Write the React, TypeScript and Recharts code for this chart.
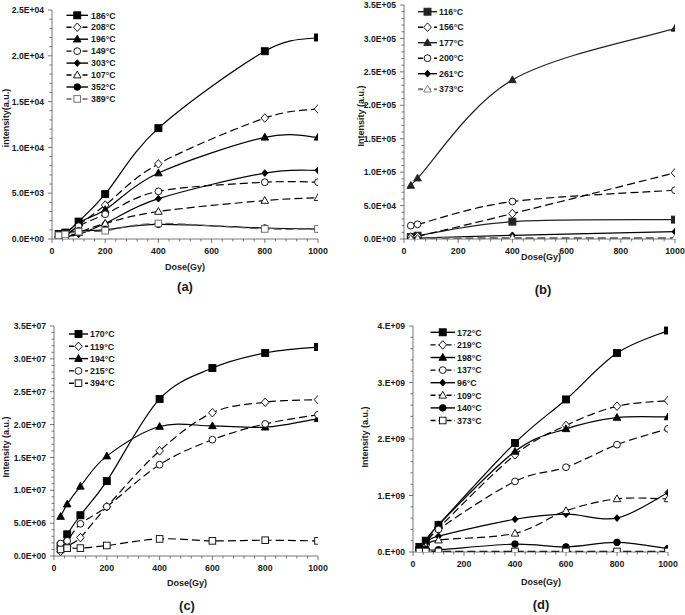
import React from 'react';
import { LineChart, Line, XAxis, YAxis } from 'recharts';

const FONT = '"Liberation Sans", Arial, sans-serif';
const AXIS = '#555';
const TXT = '#1a1a1a';

// ---------- Panel (a) ----------
const dosesA = [25, 50, 100, 200, 400, 800, 1000];
const a186 = [550, 700, 1900, 4900, 12100, 20500, 22000];
const a208 = [300, 300, 1500, 3700, 8200, 13200, 14200];
const a196 = [400, 500, 1800, 3200, 7200, 11100, 11100];
const a149 = [300, 400, 1400, 2700, 5200, 6200, 6200];
const a303 = [300, 300, 500, 1700, 4400, 7200, 7500];
const a107 = [200, 200, 700, 1700, 3000, 4200, 4500];
const a352 = [500, 600, 900, 1000, 1600, 1200, 1100];
const a389 = [400, 500, 800, 900, 1700, 1100, 1100];
const yTicksA = [0, 5000, 10000, 15000, 20000, 25000];
const yLabelsA = ['0.0E+00', '5.0E+03', '1.0E+04', '1.5E+04', '2.0E+04', '2.5E+04'];

// ---------- Panel (b) ----------
const dosesB = [25, 50, 400, 1000];
const b116 = [3000, 5000, 26000, 29000];
const b156 = [3000, 4000, 38000, 99000];
const b177 = [80000, 91000, 238000, 315000];
const b200 = [20000, 22000, 56000, 73000];
const b261 = [1000, 1500, 5500, 11000];
const b373 = [500, 700, 1500, 1500];
const yTicksB = [0, 50000, 100000, 150000, 200000, 250000, 300000, 350000];
const yLabelsB = ['0.0E+00', '5.0E+04', '1.0E+05', '1.5E+05', '2.0E+05', '2.5E+05', '3.0E+05', '3.5E+05'];

// ---------- Panel (c) ----------
const dosesC = [25, 50, 100, 200, 400, 600, 800, 1000];
const c170 = [1.5e6, 3.3e6, 6.2e6, 11.4e6, 23.9e6, 28.6e6, 30.9e6, 31.8e6];
const c119 = [0.7e6, 1.5e6, 2.8e6, 7.5e6, 16.0e6, 21.8e6, 23.4e6, 23.8e6];
const c194 = [6.0e6, 7.9e6, 10.6e6, 15.2e6, 19.7e6, 19.8e6, 19.6e6, 20.9e6];
const c215 = [1.9e6, 2.3e6, 4.9e6, 7.5e6, 13.9e6, 17.7e6, 20.1e6, 21.5e6];
const c394 = [1.0e6, 1.2e6, 1.2e6, 1.6e6, 2.6e6, 2.3e6, 2.4e6, 2.3e6];
const yTicksC = [0, 5e6, 10e6, 15e6, 20e6, 25e6, 30e6, 35e6];
const yLabelsC = ['0.0E+00', '5.0E+06', '1.0E+07', '1.5E+07', '2.0E+07', '2.5E+07', '3.0E+07', '3.5E+07'];

// ---------- Panel (d) ----------
const dosesD = [25, 50, 100, 400, 600, 800, 1000];
const d172 = [0.09e9, 0.2e9, 0.48e9, 1.93e9, 2.7e9, 3.52e9, 3.92e9];
const d219 = [0.08e9, 0.15e9, 0.42e9, 1.72e9, 2.24e9, 2.58e9, 2.68e9];
const d198 = [0.08e9, 0.17e9, 0.48e9, 1.78e9, 2.18e9, 2.38e9, 2.39e9];
const d137 = [0.08e9, 0.12e9, 0.4e9, 1.25e9, 1.5e9, 1.9e9, 2.18e9];
const d96 = [0.08e9, 0.15e9, 0.28e9, 0.58e9, 0.67e9, 0.6e9, 1.05e9];
const d109 = [0.08e9, 0.1e9, 0.21e9, 0.33e9, 0.73e9, 0.94e9, 0.94e9];
const d140 = [0.08e9, 0.05e9, 0.04e9, 0.14e9, 0.09e9, 0.17e9, 0.06e9];
const d373 = [0.01e9, 0.01e9, 0.01e9, 0.01e9, 0.01e9, 0.01e9, 0.01e9];
const yTicksD = [0, 1e9, 2e9, 3e9, 4e9];
const yLabelsD = ['0.E+00', '1.E+09', '2.E+09', '3.E+09', '4.E+09'];

const xTicks = [0, 200, 400, 600, 800, 1000];
const xLabels = ['0', '200', '400', '600', '800', '1000'];

type Kind = 'square' | 'osquare' | 'diamond' | 'fdiamond' | 'triangle' | 'otriangle' | 'circle' | 'fcircle';
interface Series { name: string; values: number[]; kind: Kind; dashed?: boolean; color?: string; width?: number; }

// Excel-like smoothed curve (Catmull-Rom style Bezier)
const excelSmooth: any = (context: any) => {
  let pts: number[][] = [];
  return {
    areaStart() {},
    areaEnd() {},
    lineStart() { pts = []; },
    lineEnd() {
      const n = pts.length;
      if (!n) return;
      context.moveTo(pts[0][0], pts[0][1]);
      for (let i = 0; i < n - 1; i++) {
        const p0 = pts[Math.max(i - 1, 0)];
        const p1 = pts[i];
        const p2 = pts[i + 1];
        const p3 = pts[Math.min(i + 2, n - 1)];
        const t = 1 / 6;
        context.bezierCurveTo(
          p1[0] + (p2[0] - p0[0]) * t, p1[1] + (p2[1] - p0[1]) * t,
          p2[0] - (p3[0] - p1[0]) * t, p2[1] - (p3[1] - p1[1]) * t,
          p2[0], p2[1]
        );
      }
    },
    point(x: number, y: number) { pts.push([+x, +y]); },
  };
};

function Marker({ kind, cx, cy, color }: { kind: Kind; cx: number; cy: number; color: string }) {
  const sw = 0.9;
  switch (kind) {
    case 'square':
      return <rect x={cx - 3.5} y={cy - 3.5} width={7} height={7} fill={color} stroke={color} strokeWidth={sw} />;
    case 'osquare':
      return <rect x={cx - 3.3} y={cy - 3.3} width={6.6} height={6.6} fill="#fff" stroke={color} strokeWidth={sw} />;
    case 'diamond':
      return <path d={`M${cx},${cy - 4.3}L${cx + 3.8},${cy}L${cx},${cy + 4.3}L${cx - 3.8},${cy}Z`} fill="#fff" stroke={color} strokeWidth={sw} />;
    case 'fdiamond':
      return <path d={`M${cx},${cy - 3.4}L${cx + 3},${cy}L${cx},${cy + 3.4}L${cx - 3},${cy}Z`} fill={color} stroke={color} strokeWidth={sw} />;
    case 'triangle':
      return <path d={`M${cx},${cy - 4}L${cx + 3.8},${cy + 2.8}L${cx - 3.8},${cy + 2.8}Z`} fill={color} stroke={color} strokeWidth={sw} />;
    case 'otriangle':
      return <path d={`M${cx},${cy - 4}L${cx + 3.8},${cy + 2.8}L${cx - 3.8},${cy + 2.8}Z`} fill="#fff" stroke={color} strokeWidth={sw} />;
    case 'circle':
      return <circle cx={cx} cy={cy} r={3.4} fill="#fff" stroke={color} strokeWidth={sw} />;
    case 'fcircle':
      return <circle cx={cx} cy={cy} r={3.3} fill={color} stroke={color} strokeWidth={sw} />;
  }
  return null;
}

interface PanelCfg {
  left: number; top: number; width: number; height: number;
  yAxisWidth: number; xAxisHeight: number; mTop: number; mRight: number;
  doses: number[]; series: Series[];
  yTicks: number[]; yLabels: string[]; yMinor: number; yMax: number;
  yTitle: string; yTitlePos: [number, number];
  xTitlePos: [number, number]; caption: string; captionPos: [number, number];
  legend: { y0: number; dy: number; x0: number; x1: number; tx: number };
}

const seriesA: Series[] = [
  { name: '186°C', values: a186, kind: 'square' },
  { name: '208°C', values: a208, kind: 'diamond', dashed: true },
  { name: '196°C', values: a196, kind: 'triangle' },
  { name: '149°C', values: a149, kind: 'circle', dashed: true },
  { name: '303°C', values: a303, kind: 'fdiamond' },
  { name: '107°C', values: a107, kind: 'otriangle', dashed: true },
  { name: '352°C', values: a352, kind: 'fcircle' },
  { name: '389°C', values: a389, kind: 'osquare', dashed: true, color: '#666' },
];
const seriesB: Series[] = [
  { name: '116°C', values: b116, kind: 'square', color: '#222' },
  { name: '156°C', values: b156, kind: 'diamond', dashed: true },
  { name: '177°C', values: b177, kind: 'triangle', color: '#222' },
  { name: '200°C', values: b200, kind: 'circle', dashed: true },
  { name: '261°C', values: b261, kind: 'fdiamond' },
  { name: '373°C', values: b373, kind: 'otriangle', dashed: true, color: '#777', width: 2 },
];
const seriesC: Series[] = [
  { name: '170°C', values: c170, kind: 'square' },
  { name: '119°C', values: c119, kind: 'diamond', dashed: true },
  { name: '194°C', values: c194, kind: 'triangle' },
  { name: '215°C', values: c215, kind: 'circle', dashed: true },
  { name: '394°C', values: c394, kind: 'osquare', dashed: true },
];
const seriesD: Series[] = [
  { name: '172°C', values: d172, kind: 'square' },
  { name: '219°C', values: d219, kind: 'diamond', dashed: true },
  { name: '198°C', values: d198, kind: 'triangle' },
  { name: '137°C', values: d137, kind: 'circle', dashed: true },
  { name: '96°C', values: d96, kind: 'fdiamond' },
  { name: '109°C', values: d109, kind: 'otriangle', dashed: true },
  { name: '140°C', values: d140, kind: 'fcircle' },
  { name: '373°C', values: d373, kind: 'osquare', dashed: true },
];

const panels: PanelCfg[] = [
  {
    left: 0, top: 0, width: 340, height: 300, yAxisWidth: 52, xAxisHeight: 61, mTop: 10, mRight: 22,
    doses: dosesA, series: seriesA, yTicks: yTicksA, yLabels: yLabelsA, yMinor: 1000, yMax: 25000,
    yTitle: 'intensity(a.u.)', yTitlePos: [6, 118], xTitlePos: [185, 267], caption: '(a)', captionPos: [185, 291],
    legend: { y0: 15.3, dy: 11.95, x0: 66.5, x1: 88, tx: 91 },
  },
  {
    left: 340, top: 0, width: 345, height: 300, yAxisWidth: 64, xAxisHeight: 61, mTop: 5, mRight: 10,
    doses: dosesB, series: seriesB, yTicks: yTicksB, yLabels: yLabelsB, yMinor: 10000, yMax: 350000,
    yTitle: 'Intensity (a.u.)', yTitlePos: [361, 116], xTitlePos: [541, 257], caption: '(b)', captionPos: [543, 294],
    legend: { y0: 11.7, dy: 15.5, x0: 418, x1: 437, tx: 439 },
  },
  {
    left: 0, top: 300, width: 340, height: 315, yAxisWidth: 54, xAxisHeight: 59, mTop: 26, mRight: 22,
    doses: dosesC, series: seriesC, yTicks: yTicksC, yLabels: yLabelsC, yMinor: 1e6, yMax: 35e6,
    yTitle: 'Intensity (a.u.)', yTitlePos: [6, 447], xTitlePos: [187, 583], caption: '(c)', captionPos: [187, 610],
    legend: { y0: 334, dy: 12.3, x0: 69, x1: 88, tx: 90 },
  },
  {
    left: 340, top: 300, width: 345, height: 315, yAxisWidth: 73, xAxisHeight: 63, mTop: 26, mRight: 17,
    doses: dosesD, series: seriesD, yTicks: yTicksD, yLabels: yLabelsD, yMinor: 2e8, yMax: 4e9,
    yTitle: 'Intensity (a.u.)', yTitlePos: [365, 437], xTitlePos: [541, 582], caption: '(d)', captionPos: [541, 609],
    legend: { y0: 332.3, dy: 12.6, x0: 430.5, x1: 455, tx: 457 },
  },
];

function range(step: number, max: number) {
  const out: number[] = [];
  for (let i = 0; i * step <= max + 1e-6; i++) out.push(Math.round(i * step * 1000) / 1000);
  return out;
}

function Panel({ cfg }: { cfg: PanelCfg }) {
  const data = cfg.doses.map((d, i) => {
    const row: Record<string, number> = { dose: d };
    cfg.series.forEach((s, k) => { row['s' + k] = s.values[i]; });
    return row;
  });
  const yAll = range(cfg.yMinor, cfg.yMax);
  const xAll = range(40, 1000);
  const yTick = (p: any) => {
    const idx = cfg.yTicks.findIndex((v) => Math.abs(v - p.payload.value) < cfg.yMinor / 10);
    const major = idx >= 0;
    return (
      <g>
        <line x1={p.x - (major ? 4 : 2.5)} x2={p.x} y1={p.y} y2={p.y} stroke={AXIS} strokeWidth={0.8} />
        {major && (
          <text x={p.x - 8} y={p.y} dy={3.1} textAnchor="end" fontFamily={FONT} fontWeight="bold" fontSize={8.6} fill={TXT}>
            {cfg.yLabels[idx]}
          </text>
        )}
      </g>
    );
  };
  const xTick = (p: any) => {
    const idx = xTicks.indexOf(p.payload.value);
    const major = idx >= 0;
    return (
      <g>
        <line x1={p.x} x2={p.x} y1={p.y} y2={p.y + (major ? 4 : 2.5)} stroke={AXIS} strokeWidth={0.8} />
        {major && (
          <text x={p.x} y={p.y + 15} textAnchor="middle" fontFamily={FONT} fontWeight="bold" fontSize={8.8} fill={TXT}>
            {xLabels[idx]}
          </text>
        )}
      </g>
    );
  };
  return (
    <div style={{ position: 'absolute', left: cfg.left, top: cfg.top }}>
      <LineChart width={cfg.width} height={cfg.height} data={data}
        margin={{ top: cfg.mTop, right: cfg.mRight, left: 0, bottom: 0 }}>
        <XAxis dataKey="dose" type="number" domain={[0, 1000]} ticks={xAll} interval={0}
          tickSize={0} tickMargin={0} tickLine={false} tick={xTick} height={cfg.xAxisHeight}
          axisLine={{ stroke: AXIS, strokeWidth: 0.8 }} allowDataOverflow />
        <YAxis type="number" domain={[0, cfg.yMax]} ticks={yAll} interval={0}
          tickSize={0} tickMargin={0} tickLine={false} tick={yTick} width={cfg.yAxisWidth}
          axisLine={{ stroke: AXIS, strokeWidth: 0.8 }} allowDataOverflow />
        {cfg.series.map((s, k) => {
          const color = s.color || '#000';
          return (
            <Line key={s.name} dataKey={'s' + k} name={s.name} type={excelSmooth} stroke={color}
              strokeWidth={s.width || 1.2} strokeDasharray={s.dashed ? '8 4' : undefined}
              isAnimationActive={false}
              dot={(p: any) => <Marker key={'m' + k + '-' + p.index} kind={s.kind} cx={p.cx} cy={p.cy} color={color} />}
              activeDot={false} />
          );
        })}
      </LineChart>
    </div>
  );
}

function Overlay() {
  return (
    <svg width={685} height={615} style={{ position: 'absolute', left: 0, top: 0, pointerEvents: 'none' }}>
      {panels.map((cfg, pi) => (
        <g key={pi}>
          <text x={cfg.yTitlePos[0]} y={cfg.yTitlePos[1]} transform={`rotate(-90 ${cfg.yTitlePos[0]} ${cfg.yTitlePos[1]})`}
            textAnchor="middle" dominantBaseline="central" fontFamily={FONT} fontWeight="bold" fontSize={9} fill={TXT}>
            {cfg.yTitle}
          </text>
          <text x={cfg.xTitlePos[0]} y={cfg.xTitlePos[1]} textAnchor="middle" dominantBaseline="central"
            fontFamily={FONT} fontWeight="bold" fontSize={9} fill={TXT}>Dose(Gy)</text>
          <text x={cfg.captionPos[0]} y={cfg.captionPos[1]} textAnchor="middle"
            fontFamily={FONT} fontWeight="bold" fontSize={13} fill={TXT}>{cfg.caption}</text>
          {cfg.series.map((s, k) => {
            const y = cfg.legend.y0 + k * cfg.legend.dy;
            const color = s.color || '#000';
            const mx = (cfg.legend.x0 + cfg.legend.x1) / 2;
            return (
              <g key={k}>
                <line x1={cfg.legend.x0} x2={cfg.legend.x1} y1={y} y2={y} stroke={color} strokeWidth={s.width || 1.4}
                  strokeDasharray={s.dashed ? '5 3' : undefined} />
                <Marker kind={s.kind} cx={mx} cy={y} color={color} />
                <text x={cfg.legend.tx} y={y} dy={3.2} fontFamily={FONT} fontWeight="bold" fontSize={8.8} fill={TXT}>{s.name}</text>
              </g>
            );
          })}
        </g>
      ))}
    </svg>
  );
}

export default function App() {
  return (
    <div style={{ position: 'absolute', left: 0, top: 0, width: 685, height: 615, background: '#fff' }}>
      {panels.map((cfg, i) => <Panel key={i} cfg={cfg} />)}
      <Overlay />
    </div>
  );
}
